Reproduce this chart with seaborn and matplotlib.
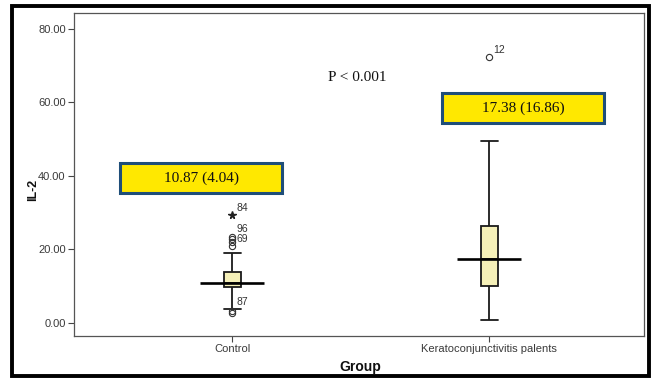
import numpy as np
import pandas as pd
import seaborn as sns
import matplotlib
matplotlib.use("Agg")
import matplotlib.pyplot as plt
from matplotlib.patches import Rectangle
from matplotlib.ticker import FormatStrFormatter

# ---- data -------------------------------------------------------------
groups = ["Control", "Keratoconjunctivitis palents"]

control_il2 = [2.6, 3.2, 3.7, 6.8, 8.6, 9.4, 9.85, 10.0, 10.2, 10.4, 10.6,
               10.75, 10.87, 11.2, 11.7, 12.3, 12.9, 13.5, 14.0, 16.2, 19.0,
               21.0, 22.0, 22.8, 23.5]
patient_il2 = [0.8, 4.0, 6.5, 8.5, 10.1, 12.0, 14.0, 16.0, 17.38, 19.5, 21.5,
               24.0, 26.5, 31.0, 38.0, 49.5, 72.5]

# extreme value (starred) in the control group
extreme_group = "Control"
extreme_value = 29.3

group_means = [10.87, 17.38]
group_sds = [4.04, 16.86]

# case numbers printed beside outlying points: (group, value)
case_labels = [("84", "Control", 31.4), ("96", "Control", 25.7),
               ("69", "Control", 22.9), ("87", "Control", 5.8),
               ("12", "Keratoconjunctivitis palents", 74.3)]

p_text = "P < 0.001"
y_ticks = [0, 20, 40, 60, 80]

# ---- figure -----------------------------------------------------------
sns.set_theme(style="ticks")
plt.rcParams["font.family"] = ["Liberation Sans", "DejaVu Sans"]

fig = plt.figure(figsize=(6.51, 3.80), dpi=100)
ax = fig.add_axes([74 / 651, 1 - 336 / 380, 570 / 651, 323 / 380])

df = pd.DataFrame({
    "Group": [groups[0]] * len(control_il2) + [groups[1]] * len(patient_il2),
    "IL-2": control_il2 + patient_il2,
})

sns.boxplot(
    data=df, x="Group", y="IL-2", order=groups, ax=ax,
    width=0.066, color="#FFF9AE", linecolor="#1a1a1a", linewidth=1.3,
    whis=1.5, capwidths=0.066,
    flierprops=dict(marker="o", markersize=4.5, markerfacecolor="none",
                    markeredgecolor="#333333", markeredgewidth=0.8),
)

# mean of each group as a long horizontal bar
for i, m in enumerate(group_means):
    ax.hlines(m, i - 0.125, i + 0.125, color="black", lw=1.9, zorder=5)

# extreme value star
xi = groups.index(extreme_group)
ax.plot([xi], [extreme_value], marker="*", color="#222222", markersize=5.5,
        linestyle="none", zorder=5)

for lab, g, v in case_labels:
    ax.text(groups.index(g) + 0.017, v, lab, fontsize=7.5, color="#333333",
            va="center", ha="left")

# mean (SD) boxes
box_specs = [(-0.436, 35.4), (0.817, 54.3)]
for (x0, y0), m, s in zip(box_specs, group_means, group_sds):
    ax.add_patch(Rectangle((x0, y0), 0.632, 8.2, facecolor="#FFE800",
                           edgecolor="#1F4E79", lw=2.2, zorder=6))
    ax.text(x0 + 0.316, y0 + 4.1, f"{m:.2f} ({s:.2f})",
            family=["Liberation Serif", "DejaVu Serif"], fontsize=11,
            ha="center", va="center", color="#111111", zorder=7)

ax.text(0.486, 66.9, p_text, family=["Liberation Serif", "DejaVu Serif"],
        fontsize=11, ha="center", va="center", color="#111111")

# axes
ax.set_xlim(-0.615, 1.603)
ax.set_ylim(-3.54, 84.35)
ax.set_yticks(y_ticks)
ax.yaxis.set_major_formatter(FormatStrFormatter("%.2f"))
ax.tick_params(axis="both", direction="out", length=4, width=0.8,
               color="#444444", labelsize=8, labelcolor="#3a3a3a", pad=2)
for sp in ax.spines.values():
    sp.set_visible(True)
    sp.set_color("#555555")
    sp.set_linewidth(0.9)

ax.set_xlabel("")
ax.set_ylabel("")
fig.text(360 / 651, 1 - 367 / 380, "Group", fontsize=10, fontweight="bold",
         ha="center", va="center", color="#111111")
fig.text(33 / 651, 1 - 190 / 380, "IL-2", fontsize=9, fontweight="bold",
         rotation=90, ha="center", va="center", color="#111111")

# outer frame
fig.add_artist(Rectangle((12 / 651, 4 / 380), 637 / 651, 370 / 380,
                         transform=fig.transFigure, fill=False,
                         edgecolor="black", lw=2.8))

fig.savefig("out.png", dpi=100)
